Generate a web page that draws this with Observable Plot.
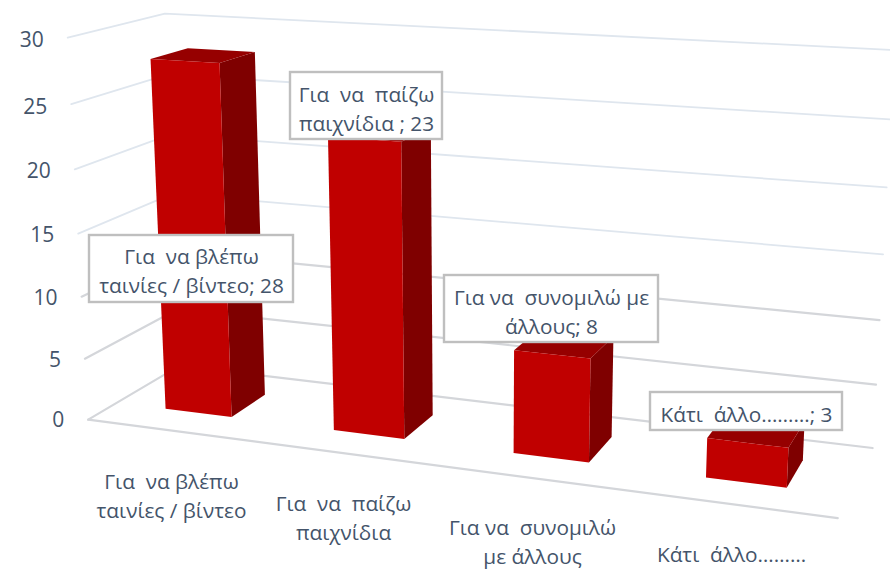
<!DOCTYPE html>
<html><head><meta charset="utf-8">
<style>html,body{margin:0;padding:0;background:#fff}svg{display:block}</style>
<script src="https://cdn.jsdelivr.net/npm/d3@7"></script>
<script src="https://cdn.jsdelivr.net/npm/@observablehq/plot@0.6"></script>
</head><body><div id="chart"></div>
<script>
// ---- data ----
const categoryLines = ["Για\u00a0 να βλέπω\nταινίες / βίντεο","Για\u00a0 να\u00a0 παίζω\nπαιχνίδια","Για να\u00a0 συνομιλώ\nμε άλλους","Κάτι\u00a0 άλλο………"];
const labelLines = ["Για\u00a0 να βλέπω\nταινίες / βίντεο; 28","Για\u00a0 να\u00a0 παίζω\nπαιχνίδια ; 23","Για να\u00a0 συνομιλώ με\nάλλους; 8","Κάτι\u00a0 άλλο………; 3"];
const values = [28,23,8,3];
const yTicks = [0,5,10,15,20,25,30];

// ---- layout: camera calibration of the 3D box (category, value, depth) -> page ----
const calibration = [
 [0,0,0,87,420],[0,15,0,78,233],[0,30,0,67,37],
 [0,0,1,177,365],[0,5,1,176.5,308],[0,10,1,176,252],[0,15,1,172,194],[0,20,1,170,134],[0,25,1,167,75],[0,30,1,163,12],
 [4,0,0,838,518],[4,0,1,872,448],[4,5,1,876,384],[4,10,1,879,320],
 [.3,0,.3,165,409],[.7,0,.3,232,416],[1.3,0,.3,333,429],[1.7,0,.3,405,438],
 [2.3,0,.3,513,453],[2.7,0,.3,589,462],[3.3,0,.3,705,477],[3.7,0,.3,786,487],
 [.3,28,.3,150,59],[.7,28,.3,220,62],[.7,28,.7,254,52],
 [2.3,8,.3,513,350],[2.7,8,.3,589,358],[3.3,3,.3,706,438],[3.7,3,.3,788,446]
];
function solve(A,b){const n=b.length,M=A.map((r,i)=>[...r,b[i]]);
 for(let c=0;c<n;c++){let p=c;for(let r=c+1;r<n;r++)if(Math.abs(M[r][c])>Math.abs(M[p][c]))p=r;[M[c],M[p]]=[M[p],M[c]];
  for(let r=0;r<n;r++)if(r!==c){const f=M[r][c]/M[c][c];for(let k=c;k<=n;k++)M[r][k]-=f*M[c][k];}}
 return M.map((r,i)=>r[n]/r[i]);}
const cam=(()=>{const rows=[],rhs=[];
 for(const [X,Y,Z,x,y] of calibration){const a=X/4,b=Y/30,c=Z;
  rows.push([a,b,c,1,0,0,0,0,-x*a,-x*b,-x*c]);rhs.push(x);
  rows.push([0,0,0,0,a,b,c,1,-y*a,-y*b,-y*c]);rhs.push(y);}
 const N=Array.from({length:11},(_,i)=>Array.from({length:11},(_,j)=>d3.sum(rows,r=>r[i]*r[j])));
 const v=Array.from({length:11},(_,i)=>d3.sum(rows,(r,k)=>r[i]*rhs[k]));
 return solve(N,v);})();
function project(X,Y,Z){const a=X/4,b=Y/30,c=Z,w=cam[8]*a+cam[9]*b+cam[10]*c+1;
 return [(cam[0]*a+cam[1]*b+cam[2]*c+cam[3])/w,(cam[4]*a+cam[5]*b+cam[6]*c+cam[7])/w];}

const barInset=0.3, depth0=0.3, depth1=0.7, nCat=categoryLines.length;
const FRONT="#C00000",SIDE="#7F0000",TOP="#960000";

// gridlines
const grid=[];
yTicks.forEach(t=>{[[0,t,0],[0,t,1],[nCat,t,1]].forEach(p=>{const [x,y]=project(...p);grid.push({t,x,y});});});
const floorFront=[[0,0,0],[nCat,0,0]].map(p=>{const [x,y]=project(...p);return {x,y};});

// bar faces
const faces=[];
values.forEach((v,i)=>{const a=i+barInset,b=i+1-barInset;
 const add=(name,fill,pts)=>pts.forEach(p=>{const [x,y]=project(...p);faces.push({id:i+name,fill,x,y});});
 add("side",SIDE,[[b,0,depth0],[b,0,depth1],[b,v,depth1],[b,v,depth0]]);
 add("top",TOP,[[a,v,depth0],[b,v,depth0],[b,v,depth1],[a,v,depth1]]);
 add("front",FRONT,[[a,0,depth0],[b,0,depth0],[b,v,depth0],[a,v,depth0]]);
});

// ticks
const tickLabels=yTicks.map(t=>{const [x,y]=project(0,t,0);return {t,x:x-24,y:y+1+t/15};});

// label placement (layout)
const boxX1=[89,290,444,650],boxX2=[293,442,658,842],boxY1=[235,72,275,392],boxY2=[302,139,342,430];
const boxes=values.map((v,i)=>({x1:boxX1[i],x2:boxX2[i],y1:boxY1[i],y2:boxY2[i],cx:[191,366,551,746][i],cy:[269,107,310,412][i],text:labelLines[i]}));
const catX=[171,343,532,731],catY=[494,516,539.5,552];
const cats=categoryLines.map((text,i)=>({text,x:catX[i],y:catY[i]}));

const FONT="'Open Sans'",INK="#44546A",FS=20.8;
const isLow=d=>d.t<=10;
const plot=Plot.plot({
 width:890,height:569,margin:0,
 x:{domain:[0,890],range:[0,890],axis:null},
 y:{domain:[0,569],range:[0,569],axis:null},
 style:{fontFamily:FONT,background:"#fff"},
 marks:[
  Plot.line(grid.filter(d=>!isLow(d)),{x:"x",y:"y",z:"t",stroke:"#DFE6EE",strokeWidth:1.8}),
  Plot.line(grid.filter(isLow),{x:"x",y:"y",z:"t",stroke:"#D4D6DA",strokeWidth:2.2}),
  Plot.line(floorFront,{x:"x",y:"y",stroke:"#D4D6DA",strokeWidth:2.2}),
  Plot.line(faces,{x:"x",y:"y",z:"id",fill:"fill",stroke:null,curve:"linear-closed"}),
  Plot.rect(boxes,{x1:"x1",x2:"x2",y1:"y1",y2:"y2",fill:"#fff",stroke:"#BFBFBF",strokeWidth:2.4}),
  Plot.text(boxes,{x:"cx",y:"cy",text:"text",fill:INK,fontSize:FS,lineHeight:1.4,fontFamily:FONT}),
  Plot.text(cats,{x:"x",y:"y",text:"text",fill:INK,fontSize:FS,lineHeight:1.4,fontFamily:FONT}),
  Plot.text(tickLabels,{x:"x",y:"y",text:d=>String(d.t),textAnchor:"end",fill:INK,fontSize:21,fontFamily:FONT})
 ]
});
document.getElementById("chart").append(plot);
</script></body></html>
